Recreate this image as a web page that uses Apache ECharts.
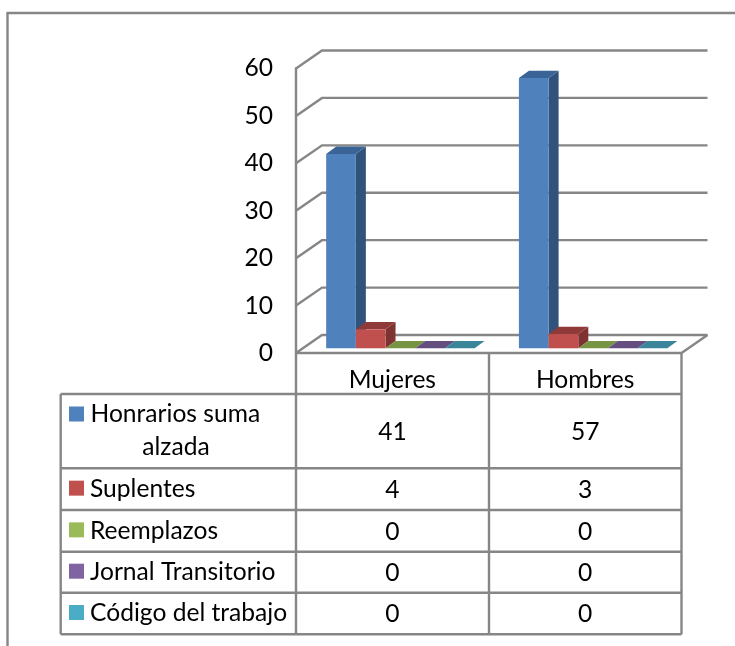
<!DOCTYPE html>
<html><head><meta charset="utf-8">
<style>html,body{margin:0;padding:0;background:#fff}#c{width:735px;height:646px}</style>
<script src="https://cdn.jsdelivr.net/npm/echarts@6/dist/echarts.min.js"></script>
</head><body><div id="c"></div>
<script>
var categories = ['Mujeres', 'Hombres'];
var honorarios = [41, 57];
var suplentes = [4, 3];
var reemplazos = [0, 0];
var jornal = [0, 0];
var codigo = [0, 0];
var yTicks = [0, 10, 20, 30, 40, 50, 60];
var seriesNames = ['Honrarios suma alzada', 'Suplentes', 'Reemplazos', 'Jornal Transitorio', 'Código del trabajo'];
var seriesValues = [honorarios, suplentes, reemplazos, jornal, codigo];
var front = ['#4F81BD', '#C0504D', '#9BBB59', '#8064A2', '#4BACC6'];
var side = ['#31527A', '#7F3330', '#667C3A', '#54426C', '#317284'];
var topc = ['#3A6496', '#8F3A38', '#779344', '#644E80', '#3A8599'];

var LINE = '#868686', FONT = 'Lato, "Open Sans", sans-serif', FS = 24.6, LW = 2.4;
var depthX = 26, depthY = 18, barDX = 10, barDY = 7.4, lift = 4.7, shift = 8;
var colX = [60.7, 296, 489, 681.5];
var rowY = [353, 394, 468.3, 510, 551.7, 592.7, 634.3];

function wallItem(params, api) {
  var cs = params.coordSys, v = api.value(0), y = api.coord([0, v])[1];
  var l = cs.x, r = cs.x + cs.width;
  var style = { stroke: LINE, lineWidth: LW, fill: null };
  var kids = [{ type: 'polyline', shape: { points: [[l, y], [l + depthX, y - depthY], [r + depthX, y - depthY]] }, style: style }];
  if (v === 0) kids.push({ type: 'polyline', shape: { points: [[l, y], [r, y], [r + depthX, y - depthY]] }, style: style });
  return { type: 'group', children: kids };
}
function barRenderer(idx) {
  return function (params, api) {
    var c = api.value(0), v = api.value(1);
    var b = api.coord([c, 0]), t = api.coord([c, v]);
    var w = api.size([1, 0])[0] * 0.154;
    var x0 = b[0] - 2.5 * w + idx * w + shift, x1 = x0 + w;
    var y0 = b[1] - lift, y1 = t[1] - lift;
    return { type: 'group', children: [
      { type: 'polygon', shape: { points: [[x1, y1], [x1 + barDX, y1 - barDY], [x1 + barDX, y0 - barDY], [x1, y0]] }, style: { fill: side[idx] } },
      { type: 'polygon', shape: { points: [[x0, y1], [x0 + barDX, y1 - barDY], [x1 + barDX, y1 - barDY], [x1, y1]] }, style: { fill: topc[idx] } },
      { type: 'rect', shape: { x: x0, y: y1, width: w, height: y0 - y1 }, style: { fill: front[idx] } }
    ] };
  };
}

var series = [{
  type: 'custom', name: 'walls', silent: true, renderItem: wallItem, clip: false, z: 1,
  encode: { y: 0 }, data: yTicks.map(function (t) { return [t]; })
}];
seriesValues.forEach(function (vals, i) {
  series.push({
    type: 'custom', name: seriesNames[i], silent: true, clip: false, z: 2 + i,
    renderItem: barRenderer(i), encode: { x: 0, y: 1 },
    data: vals.map(function (v, c) { return [c, v]; })
  });
});

// data table
var g = [];
function line(x1, y1, x2, y2) {
  g.push({ type: 'line', shape: { x1: x1, y1: y1, x2: x2, y2: y2 }, style: { stroke: LINE, lineWidth: LW }, z: 10 });
}
function text(s, x, y, align) {
  g.push({ type: 'text', x: x, y: y, style: { text: s, fill: '#000', font: FS + 'px ' + FONT, textAlign: align || 'left', textVerticalAlign: 'middle' }, z: 11 });
}
// outer frame
line(7.5, 13, 7.5, 646); line(6.5, 13, 735, 13);
// table grid
colX.slice(1).forEach(function (x) { line(x, rowY[0], x, rowY[6]); });
line(colX[0], rowY[1], colX[0], rowY[6]);
rowY.slice(1).forEach(function (y) { line(colX[0], y, colX[3], y); });
// table contents
seriesNames.forEach(function (name, i) {
  var top = rowY[i + 1], bot = rowY[i + 2], mid = (top + bot) / 2;
  var swatchY = i === 0 ? 414 : mid - 1;
  g.push({ type: 'rect', shape: { x: 69, y: swatchY - 7.5, width: 15, height: 15 }, style: { fill: front[i] }, z: 11 });
  if (i === 0) {
    text('Honrarios suma', 90.5, 414);
    text('alzada', 176, 447, 'center');
  } else {
    text(name, 90, mid);
  }
  seriesValues[i].forEach(function (v, c) {
    text(String(v), (colX[c + 1] + colX[c + 2]) / 2, mid + 1, 'center');
  });
});

var chart = echarts.init(document.getElementById('c'), null, { renderer: 'canvas' });
chart.setOption({
  animation: false,
  backgroundColor: '#fff',
  grid: { left: 296, top: 68.5, width: 385.5, height: 284.5, containLabel: false },
  xAxis: {
    type: 'category', data: categories,
    axisLine: { show: false }, axisTick: { show: false }, splitLine: { show: false },
    axisLabel: { color: '#000', fontFamily: FONT, fontSize: FS, margin: 15 }
  },
  yAxis: {
    type: 'value', min: 0, max: 60, interval: 10,
    axisLine: { show: true, lineStyle: { color: LINE, width: LW } },
    axisTick: { show: false }, splitLine: { show: false },
    axisLabel: { color: '#000', fontFamily: FONT, fontSize: FS, margin: 23, padding: [3, 0, 0, 0] }
  },
  graphic: g,
  series: series
});
</script></body></html>
